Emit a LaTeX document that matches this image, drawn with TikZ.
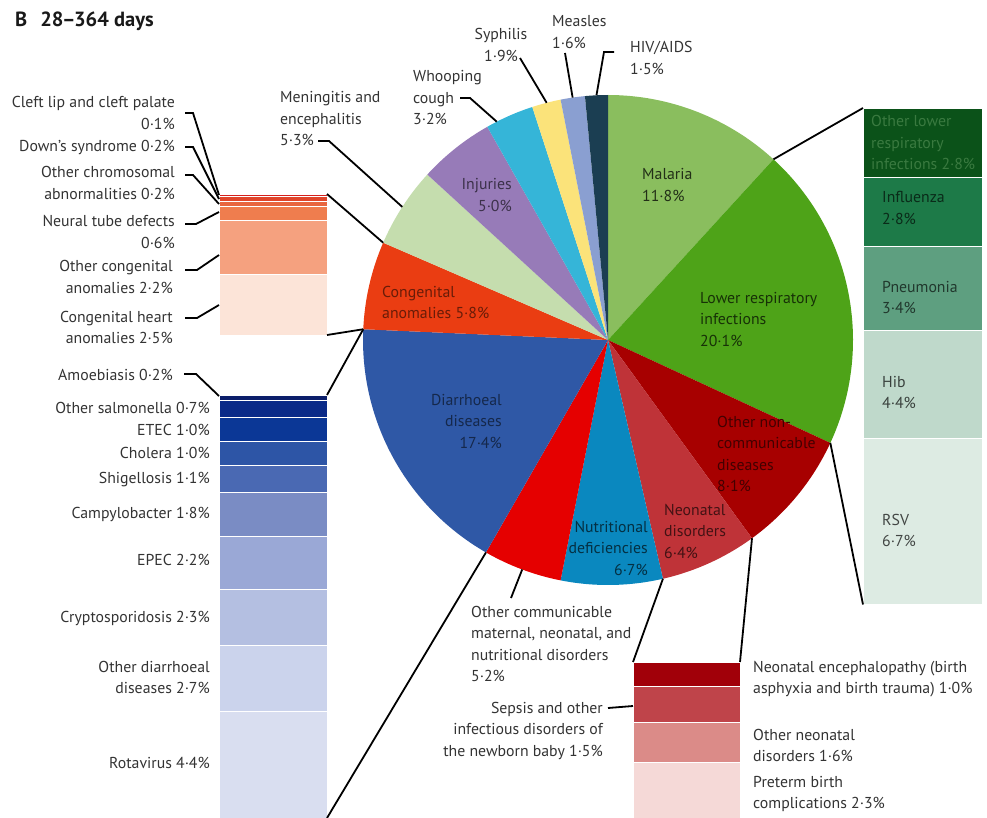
\documentclass[tikz,border=0pt]{standalone}
\usepackage{fontspec}
\setmainfont{PT Sans}

% slice colours
\definecolor{cMal}{HTML}{8ABE5E}
\definecolor{cLri}{HTML}{4EA318}
\definecolor{cOncd}{HTML}{A70000}
\definecolor{cNeo}{HTML}{BF3338}
\definecolor{cNut}{HTML}{0A88BF}
\definecolor{cOcom}{HTML}{E50000}
\definecolor{cDia}{HTML}{2F58A6}
\definecolor{cCong}{HTML}{EA3D12}
\definecolor{cMen}{HTML}{C5DDAE}
\definecolor{cInj}{HTML}{977BB8}
\definecolor{cWho}{HTML}{35B5D8}
\definecolor{cSyp}{HTML}{FBE37A}
\definecolor{cMea}{HTML}{8A9FD1}
\definecolor{cHiv}{HTML}{1B3E52}
% congenital bar
\definecolor{cCleft}{HTML}{D5201C}
\definecolor{cDown}{HTML}{E0452A}
\definecolor{cChromo}{HTML}{E8663F}
\definecolor{cNeural}{HTML}{EF7D4E}
\definecolor{cOthCong}{HTML}{F5A17F}
\definecolor{cHeart}{HTML}{FCE4D8}
% diarrhoeal bar
\definecolor{cAmoeb}{HTML}{0B1E6A}
\definecolor{cSalm}{HTML}{0A2A88}
\definecolor{cEtec}{HTML}{0B3796}
\definecolor{cChol}{HTML}{2D55A6}
\definecolor{cShig}{HTML}{4A69B3}
\definecolor{cCampy}{HTML}{7A8CC4}
\definecolor{cEpec}{HTML}{9AA8D6}
\definecolor{cCrypto}{HTML}{B4BFE1}
\definecolor{cOthDia}{HTML}{CBD3EC}
\definecolor{cRota}{HTML}{D9DEF0}
% lower respiratory bar
\definecolor{cOthLri}{HTML}{0B5219}
\definecolor{cOthLriText}{HTML}{3A7A40}
\definecolor{cInflu}{HTML}{1D7A48}
\definecolor{cPneu}{HTML}{5E9F80}
\definecolor{cHib}{HTML}{BFD9CB}
\definecolor{cRsv}{HTML}{DDEBE3}
% neonatal bar
\definecolor{cEnceph}{HTML}{A10009}
\definecolor{cSepsis}{HTML}{BF444A}
\definecolor{cOthNeo}{HTML}{DB8B88}
\definecolor{cPreterm}{HTML}{F5D9D7}

\begin{document}
\begin{tikzpicture}[x=1pt, y=-1pt,
    lbl/.style={font=\fontsize{15.8}{21.5}\selectfont, inner sep=0pt, text=black!80},
    leader/.style={line width=1.8pt, black},
    seg/.style={draw=white, line width=0.8pt}]
    \useasboundingbox (0,0) rectangle (987,818);

    \node[lbl, font=\fontsize{20.5}{22}\selectfont\bfseries, anchor=base west, text=black!90] (title) at (15,27) {B\hspace{13pt}28\kern-1.5pt–\kern-1.5pt364 days};

    % pie
    \coordinate (C) at (608,340);
    \fill[cMal] (C) -- ++(-90:245) arc[start angle=-90, end angle=-47.52, radius=245] -- cycle;
    \fill[cLri] (C) -- ++(-47.52:245) arc[start angle=-47.52, end angle=24.84, radius=245] -- cycle;
    \fill[cOncd] (C) -- ++(24.84:245) arc[start angle=24.84, end angle=54, radius=245] -- cycle;
    \fill[cNeo] (C) -- ++(54:245) arc[start angle=54, end angle=77.04, radius=245] -- cycle;
    \fill[cNut] (C) -- ++(77.04:245) arc[start angle=77.04, end angle=101.16, radius=245] -- cycle;
    \fill[cOcom] (C) -- ++(101.16:245) arc[start angle=101.16, end angle=119.88, radius=245] -- cycle;
    \fill[cDia] (C) -- ++(119.88:245) arc[start angle=119.88, end angle=182.52, radius=245] -- cycle;
    \fill[cCong] (C) -- ++(182.52:245) arc[start angle=182.52, end angle=203.4, radius=245] -- cycle;
    \fill[cMen] (C) -- ++(203.4:245) arc[start angle=203.4, end angle=222.48, radius=245] -- cycle;
    \fill[cInj] (C) -- ++(222.48:245) arc[start angle=222.48, end angle=240.48, radius=245] -- cycle;
    \fill[cWho] (C) -- ++(240.48:245) arc[start angle=240.48, end angle=252, radius=245] -- cycle;
    \fill[cSyp] (C) -- ++(252:245) arc[start angle=252, end angle=258.84, radius=245] -- cycle;
    \fill[cMea] (C) -- ++(258.84:245) arc[start angle=258.84, end angle=264.6, radius=245] -- cycle;
    \fill[cHiv] (C) -- ++(264.6:245) arc[start angle=264.6, end angle=270, radius=245] -- cycle;

    % points on the rim
    \path (C) ++(-47.52:245) coordinate (eMalLri);
    \path (C) ++(24.84:245) coordinate (eLriOncd);
    \path (C) ++(54:245) coordinate (eOncdNeo);
    \path (C) ++(77.04:245) coordinate (eNeoNut);
    \path (C) ++(110.5:245) coordinate (eOcom);
    \path (C) ++(119.88:245) coordinate (eOcomDia);
    \path (C) ++(182.52:245) coordinate (eDiaCong);
    \path (C) ++(203.4:245) coordinate (eCongMen);
    \path (C) ++(212.9:245) coordinate (eMen);
    \path (C) ++(243:245) coordinate (eWho);
    \path (C) ++(255.5:245) coordinate (eSyp);
    \path (C) ++(261.7:245) coordinate (eMea);
    \path (C) ++(267.3:245) coordinate (eHiv);

    % labels in the pie (base = last line)
    \node[lbl, anchor=base west, align=left, text=cMal!25!black] (pMal) at (642,201.5) {Malaria\\11·8\%};
    \node[lbl, anchor=base west, align=left, text=cLri!30!black] (pLri) at (700,346) {Lower respiratory\\infections\\20·1\%};
    \node[lbl, anchor=base west, align=left, text=cOncd!40!black] (pOncd) at (717,491.5) {Other non-\\communicable\\diseases\\8·1\%};
    \node[lbl, anchor=base west, align=left, text=cNeo!35!black] (pNeo) at (664,558) {Neonatal\\disorders\\6·4\%};
    \node[lbl, anchor=base east, align=right, text=cNut!35!black] (pNut) at (648,575) {Nutritional\\deficiencies\\6·7\%};
    \node[lbl, anchor=base east, align=right, text=cDia!45!black] (pDia) at (502,448) {Diarrhoeal\\diseases\\17·4\%};
    \node[lbl, anchor=base west, align=left, text=cCong!45!black] (pCong) at (382,318.5) {Congenital\\anomalies 5·8\%};
    \node[lbl, anchor=base east, align=right, text=cInj!40!black] (pInj) at (512,211.5) {Injuries\\5·0\%};

    % labels round the pie
    \node[lbl, anchor=base west, align=left] (lMen) at (280,146) {Meningitis and\\encephalitis\\5·3\%};
    \node[lbl, anchor=base west, align=left] (lWho) at (413,125) {Whooping\\cough\\3·2\%};
    \node[lbl, anchor=base, align=center] (lSyp) at (501,61.5) {Syphilis\\1·9\%};
    \node[lbl, anchor=base west, align=left] (lMea) at (552,48.5) {Measles\\1·6\%};
    \node[lbl, anchor=base west, align=left] (lHiv) at (630,74.5) {HIV/AIDS\\1·5\%};
    \node[lbl, anchor=base west, align=left] (lOcom) at (471,681.5) {Other communicable\\maternal, neonatal, and\\nutritional disorders\\5·2\%};

    \draw[leader] (lMen.base west) ++(38,-5) -- ++(11,0) -- (eMen);
    \draw[leader] (lWho.base west) ++(47,-27) -- ++(10,0) -- (eWho);
    \draw[leader] (lSyp.base) ++(19,-3.5) -- (eSyp);
    \draw[leader] (lMea.base west) ++(13,4.5) -- (eMea);
    \draw[leader] (lHiv.base west) ++(-16,-22.5) -- ++(-10,0) -- (eHiv);
    \draw[leader] (lOcom.base west) ++(40,-83.5) -- (eOcom);

    % congenital anomalies bar
    \filldraw[seg, fill=cCleft] (219,194) rectangle (327,196.4);
    \filldraw[seg, fill=cDown] (219,196.4) rectangle (327,201.3);
    \filldraw[seg, fill=cChromo] (219,201.3) rectangle (327,206.2);
    \filldraw[seg, fill=cNeural] (219,206.2) rectangle (327,220.7);
    \filldraw[seg, fill=cOthCong] (219,220.7) rectangle (327,274.2);
    \filldraw[seg, fill=cHeart] (219,274.2) rectangle (327,335);
    \coordinate (congTR) at (327,194);
    \coordinate (congBR) at (327,335);
    \coordinate (bCleft) at (219,195);
    \coordinate (bDown) at (219,199);
    \coordinate (bChromo) at (219,204);
    \coordinate (bNeural) at (219,212);
    \coordinate (bOthCong) at (219,255);
    \coordinate (bHeart) at (219,305);

    \node[lbl, anchor=base east, align=right] (lCleft) at (175,129.5) {Cleft lip and cleft palate\\0·1\%};
    \node[lbl, anchor=base east, align=right] (lDown) at (175,152) {Down’s syndrome 0·2\%};
    \node[lbl, anchor=base east, align=right] (lChromo) at (175,199.5) {Other chromosomal\\abnormalities 0·2\%};
    \node[lbl, anchor=base east, align=right] (lNeural) at (175,248.5) {Neural tube defects\\0·6\%};
    \node[lbl, anchor=base east, align=right] (lOthCong) at (173,293.5) {Other congenital\\anomalies 2·2\%};
    \node[lbl, anchor=base east, align=right] (lHeart) at (173,343.5) {Congenital heart\\anomalies 2·5\%};

    \draw[leader] (lCleft.base east) ++(10,-16.5) -- ++(8,0) -- (bCleft);
    \draw[leader] (lDown.base east) ++(10,-5) -- ++(8,0) -- (bDown);
    \draw[leader] (lChromo.base east) ++(10,-24.5) -- ++(8,0) -- (bChromo);
    \draw[leader] (lNeural.base east) ++(10,-24.5) -- ++(11,0) -- (bNeural);
    \draw[leader] (lOthCong.base east) ++(12,-23.5) -- ++(12,0) -- (bOthCong);
    \draw[leader] (lHeart.base east) ++(12,-25.5) -- ++(12,0) -- (bHeart);
    \draw[leader] (congTR) -- (eCongMen);
    \draw[leader] (congBR) -- (eDiaCong);

    % diarrhoeal diseases bar
    \filldraw[seg, fill=cAmoeb] (219,395) rectangle (327,399.9);
    \filldraw[seg, fill=cSalm] (219,399.9) rectangle (327,416.9);
    \filldraw[seg, fill=cEtec] (219,416.9) rectangle (327,441.2);
    \filldraw[seg, fill=cChol] (219,441.2) rectangle (327,465.5);
    \filldraw[seg, fill=cShig] (219,465.5) rectangle (327,492.2);
    \filldraw[seg, fill=cCampy] (219,492.2) rectangle (327,535.9);
    \filldraw[seg, fill=cEpec] (219,535.9) rectangle (327,589.4);
    \filldraw[seg, fill=cCrypto] (219,589.4) rectangle (327,645.3);
    \filldraw[seg, fill=cOthDia] (219,645.3) rectangle (327,710.9);
    \filldraw[seg, fill=cRota] (219,710.9) rectangle (327,818);
    \coordinate (diaTR) at (327,395);
    \coordinate (diaBR) at (327,818);
    \coordinate (bAmoeb) at (219,396);

    \node[lbl, anchor=base east] (lAmoeb) at (173,380) {Amoebiasis 0·2\%};
    \node[lbl, anchor=base east] (lSalm) at (210,413) {Other salmonella 0·7\%};
    \node[lbl, anchor=base east] (lEtec) at (210,435) {ETEC 1·0\%};
    \node[lbl, anchor=base east] (lChol) at (210,458) {Cholera 1·0\%};
    \node[lbl, anchor=base east] (lShig) at (210,483) {Shigellosis 1·1\%};
    \node[lbl, anchor=base east] (lCampy) at (210,518) {Campylobacter 1·8\%};
    \node[lbl, anchor=base east] (lEpec) at (210,565) {EPEC 2·2\%};
    \node[lbl, anchor=base east] (lCrypto) at (210,622) {Cryptosporidosis 2·3\%};
    \node[lbl, anchor=base east, align=right] (lOthDia) at (210,693.5) {Other diarrhoeal\\diseases 2·7\%};
    \node[lbl, anchor=base east] (lRota) at (210,768) {Rotavirus 4·4\%};

    \draw[leader] (lAmoeb.base east) ++(11,-6) -- ++(12,0) -- (bAmoeb);
    \draw[leader] (diaTR) -- (eDiaCong);
    \draw[leader] (diaBR) -- (eOcomDia);

    % lower respiratory infections bar
    \filldraw[seg, fill=cOthLri] (863,108) rectangle (982,177);
    \filldraw[seg, fill=cInflu] (863,177) rectangle (982,246);
    \filldraw[seg, fill=cPneu] (863,246) rectangle (982,330);
    \filldraw[seg, fill=cHib] (863,330) rectangle (982,438.5);
    \filldraw[seg, fill=cRsv] (863,438.5) rectangle (982,604.5);
    \coordinate (lriTL) at (863,108);
    \coordinate (lriBL) at (863,604.5);

    \node[lbl, anchor=base west, align=left, text=cOthLriText] (lOthLri) at (871,170) {Other lower\\respiratory\\infections 2·8\%};
    \node[lbl, anchor=base west, align=left, text=cInflu!35!black] (lInflu) at (882,224.5) {Influenza\\2·8\%};
    \node[lbl, anchor=base west, align=left, text=cPneu!35!black] (lPneu) at (882,313.5) {Pneumonia\\3·4\%};
    \node[lbl, anchor=base west, align=left, text=cHib!30!black] (lHib) at (882,408.5) {Hib\\4·4\%};
    \node[lbl, anchor=base west, align=left, text=cRsv!30!black] (lRsv) at (882,546.5) {RSV\\6·7\%};

    \draw[leader] (lriTL) -- (eMalLri);
    \draw[leader] (lriBL) -- (eLriOncd);

    % neonatal disorders bar
    \filldraw[seg, fill=cEnceph] (633,662) rectangle (740,686);
    \filldraw[seg, fill=cSepsis] (633,686) rectangle (740,722);
    \filldraw[seg, fill=cOthNeo] (633,722) rectangle (740,762);
    \filldraw[seg, fill=cPreterm] (633,762) rectangle (740,818);
    \coordinate (neoTL) at (633,662);
    \coordinate (neoTR) at (740,662);
    \coordinate (bSep) at (633,706);

    \node[lbl, anchor=base west, align=left] (lEnceph) at (753,693.5) {Neonatal encephalopathy (birth\\asphyxia and birth trauma) 1·0\%};
    \node[lbl, anchor=base east, align=right] (lSep) at (603,756) {Sepsis and other\\infectious disorders of\\the newborn baby 1·5\%};
    \node[lbl, anchor=base west, align=left] (lOthNeo) at (753,761.5) {Other neonatal\\disorders 1·6\%};
    \node[lbl, anchor=base west, align=left] (lPreterm) at (753,808.5) {Preterm birth\\complications 2·3\%};

    \draw[leader] (lSep.base east) ++(5,-48) -- (bSep);
    \draw[leader] (neoTL) -- (eNeoNut);
    \draw[leader] (neoTR) -- (eOncdNeo);
\end{tikzpicture}
\end{document}
